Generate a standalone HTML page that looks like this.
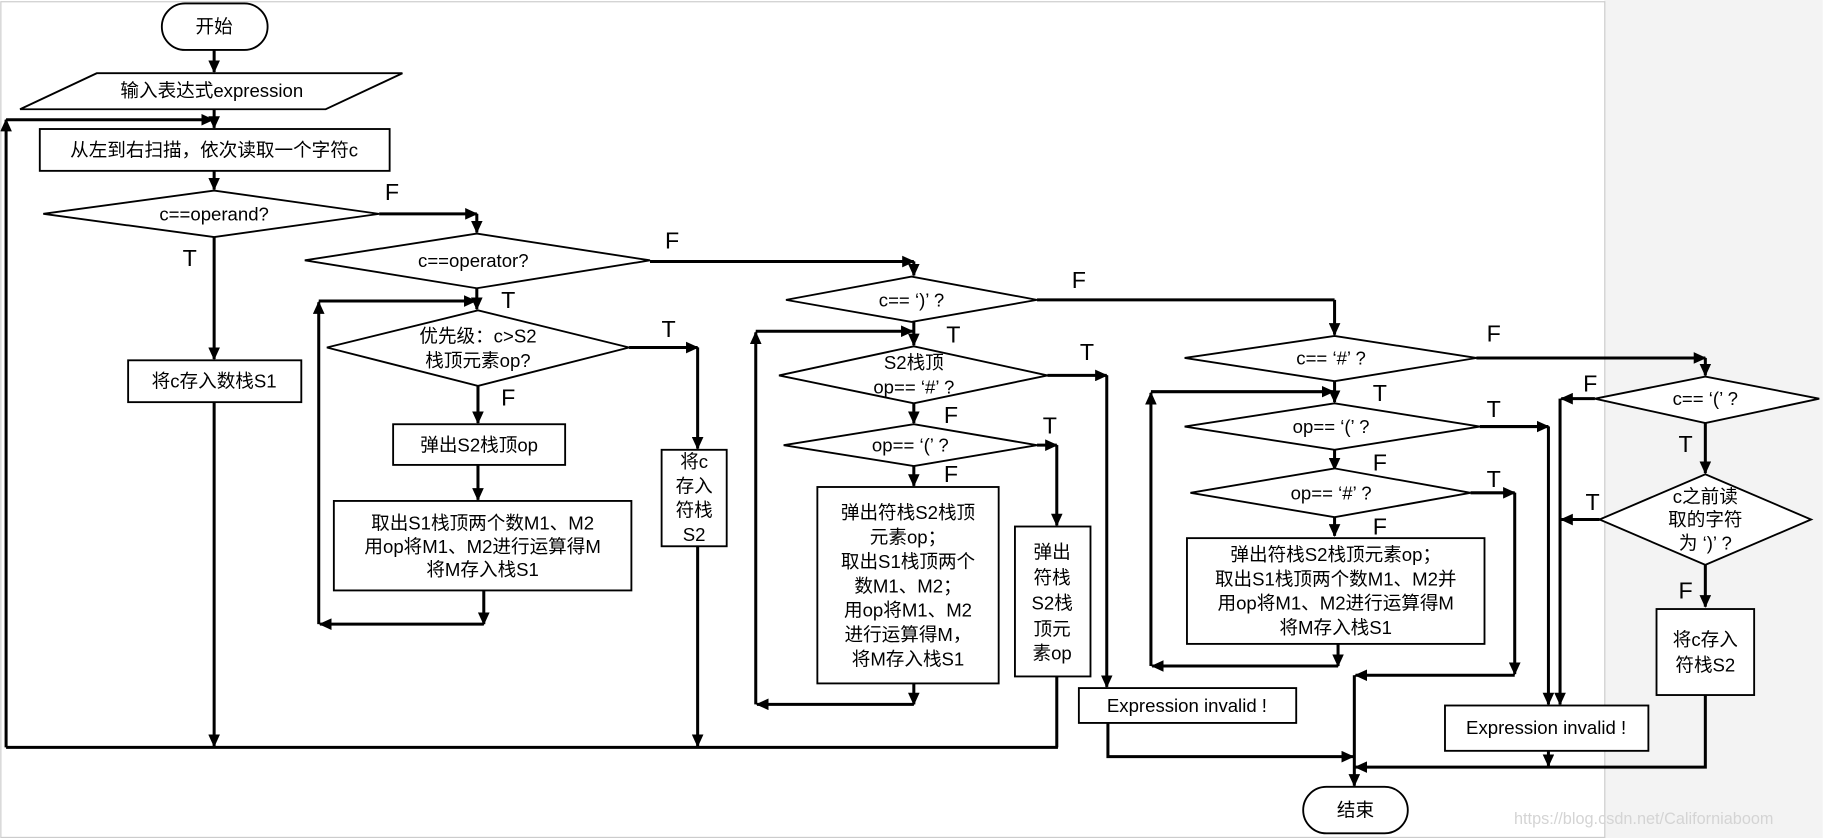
<!DOCTYPE html>
<html><head><meta charset="utf-8"><style>
html,body{margin:0;padding:0;background:#fff;}
svg{display:block;}
text{font-family:"Liberation Sans","Noto Sans CJK SC",sans-serif;fill:#000;}
.t{font-size:16px;text-anchor:middle;dominant-baseline:central;}
.l{font-size:20px;text-anchor:middle;dominant-baseline:central;}
.s{fill:#fff;stroke:#000;stroke-width:1.6;}
.w{fill:none;stroke:#000;stroke-width:2.6;}
</style></head><body>
<svg width="1823" height="838" viewBox="0 0 1568 721" xmlns="http://www.w3.org/2000/svg">
<defs><marker id="a" markerUnits="userSpaceOnUse" markerWidth="12" markerHeight="10" refX="10" refY="5" orient="auto"><path d="M0,0 L11,5 L0,10 z" fill="#000"/></marker></defs>
<rect x="1380" y="0" width="188" height="721" fill="#f3f3f3"/>
<rect x="0.5" y="1.5" width="1380" height="719" fill="none" stroke="#ccc" stroke-width="1"/>

<g class="w">
<path d="M184,43V62" marker-end="url(#a)"/>
<path d="M184,94V110" marker-end="url(#a)"/>
<path d="M5,643V103" marker-end="url(#a)"/>
<path d="M5,103H183" marker-end="url(#a)"/>
<path d="M184,147V163" marker-end="url(#a)"/>
<path d="M326,184H410" marker-end="url(#a)"/>
<path d="M410,184V200" marker-end="url(#a)"/>
<path d="M184,204V309" marker-end="url(#a)"/>
<path d="M184,346V642" marker-end="url(#a)"/>
<path d="M5,643H910"/>
<path d="M559,225H786" marker-end="url(#a)"/>
<path d="M786,225V237" marker-end="url(#a)"/>
<path d="M410,248V266" marker-end="url(#a)"/>
<path d="M274,537V260" marker-end="url(#a)"/>
<path d="M274,259H409" marker-end="url(#a)"/>
<path d="M541,299H600" marker-end="url(#a)"/>
<path d="M600,299V386" marker-end="url(#a)"/>
<path d="M600,470V642" marker-end="url(#a)"/>
<path d="M411,332V364" marker-end="url(#a)"/>
<path d="M411,400V430" marker-end="url(#a)"/>
<path d="M416,508V537" marker-end="url(#a)"/>
<path d="M416,537H275" marker-end="url(#a)"/>
<path d="M892,258H1148" />
<path d="M1148,258V288" marker-end="url(#a)"/>
<path d="M786,277V297" marker-end="url(#a)"/>
<path d="M650,606V286" marker-end="url(#a)"/>
<path d="M650,285H785" marker-end="url(#a)"/>
<path d="M901,323H952" marker-end="url(#a)"/>
<path d="M952,323V591" marker-end="url(#a)"/>
<path d="M786,347V364" marker-end="url(#a)"/>
<path d="M892,383H909" marker-end="url(#a)"/>
<path d="M909,383V452" marker-end="url(#a)"/>
<path d="M786,401V418" marker-end="url(#a)"/>
<path d="M786,588V606" marker-end="url(#a)"/>
<path d="M786,606H651" marker-end="url(#a)"/>
<path d="M909,582V643"/>
<path d="M1270,308H1467" marker-end="url(#a)"/>
<path d="M1467,308V323" marker-end="url(#a)"/>
<path d="M1372,343H1343" marker-end="url(#a)"/>
<path d="M1342,343V606" marker-end="url(#a)"/>
<path d="M1376,447H1343" marker-end="url(#a)"/>
<path d="M1148,328V346" marker-end="url(#a)"/>
<path d="M990,573V338" marker-end="url(#a)"/>
<path d="M990,337H1147" marker-end="url(#a)"/>
<path d="M1273,367H1332" marker-end="url(#a)"/>
<path d="M1332,367V606" marker-end="url(#a)"/>
<path d="M1148,387V404" marker-end="url(#a)"/>
<path d="M1265,424H1303" marker-end="url(#a)"/>
<path d="M1303,424V580" marker-end="url(#a)"/>
<path d="M1303,581H1166" marker-end="url(#a)"/>
<path d="M1148,445V461" marker-end="url(#a)"/>
<path d="M1151,554V573" marker-end="url(#a)"/>
<path d="M1151,573H991" marker-end="url(#a)"/>
<path d="M1165,581V676" marker-end="url(#a)"/>
<path d="M953,622V651H1164" marker-end="url(#a)"/>
<path d="M1467,598V660H1166" marker-end="url(#a)"/>
<path d="M1332,646V659" marker-end="url(#a)"/>
<path d="M1467,364V407" marker-end="url(#a)"/>
<path d="M1467,486V522" marker-end="url(#a)"/>
</g>

<rect class="s" x="139" y="3" width="91" height="40" rx="20"/>
<text class="t" x="184" y="23">开始</text>
<polygon class="s" points="83,63 346,63 280,94 17,94"/>
<text class="t" x="182" y="78">输入表达式expression</text>
<rect class="s" x="34" y="111" width="301" height="36"/>
<text class="t" x="184" y="129">从左到右扫描，依次读取一个字符c</text>
<polygon class="s" points="37,184 184,164 326,184 184,204"/>
<text class="t" x="184" y="184">c==operand?</text>
<rect class="s" x="110" y="310" width="149" height="36"/>
<text class="t" x="184" y="328">将c存入数栈S1</text>

<polygon class="s" points="262,224 410,201 559,224 410,248"/>
<text class="t" x="407" y="224">c==operator?</text>
<polygon class="s" points="281,299 411,267 541,299 411,332"/>
<text class="t" x="411" y="289">优先级：c&gt;S2</text>
<text class="t" x="411" y="310">栈顶元素op?</text>
<rect class="s" x="338" y="365" width="148" height="35"/>
<text class="t" x="412" y="383">弹出S2栈顶op</text>
<rect class="s" x="287" y="431" width="256" height="77"/>
<text class="t" x="415" y="450">取出S1栈顶两个数M1、M2</text>
<text class="t" x="415" y="470">用op将M1、M2进行运算得M</text>
<text class="t" x="415" y="490">将M存入栈S1</text>
<rect class="s" x="569" y="387" width="56" height="83"/>
<text class="t" x="597" y="397">将c</text>
<text class="t" x="597" y="418">存入</text>
<text class="t" x="597" y="439">符栈</text>
<text class="t" x="597" y="460">S2</text>

<polygon class="s" points="676,258 784,238 892,258 784,277"/>
<text class="t" x="784" y="258">c==  ‘)’ ?</text>
<polygon class="s" points="670,323 786,298 901,323 786,347"/>
<text class="t" x="786" y="312">S2栈顶</text>
<text class="t" x="786" y="333">op==  ‘#’ ?</text>
<polygon class="s" points="674,383 786,365 892,383 786,401"/>
<text class="t" x="783" y="383">op==  ‘(’ ?</text>
<rect class="s" x="703" y="419" width="156" height="169"/>
<text class="t" x="781" y="441">弹出符栈S2栈顶</text>
<text class="t" x="781" y="462">元素op；</text>
<text class="t" x="781" y="483">取出S1栈顶两个</text>
<text class="t" x="781" y="504">数M1、M2；</text>
<text class="t" x="781" y="525">用op将M1、M2</text>
<text class="t" x="781" y="546">进行运算得M，</text>
<text class="t" x="781" y="567">将M存入栈S1</text>
<rect class="s" x="873" y="453" width="65" height="129"/>
<text class="t" x="905" y="475">弹出</text>
<text class="t" x="905" y="497">符栈</text>
<text class="t" x="905" y="519">S2栈</text>
<text class="t" x="905" y="541">顶元</text>
<text class="t" x="905" y="562">素op</text>
<rect class="s" x="928" y="592" width="187" height="30"/>
<text class="t" x="1021" y="607">Expression invalid !</text>

<polygon class="s" points="1019,308 1148,289 1270,308 1148,328"/>
<text class="t" x="1145" y="308">c==  ‘#’ ?</text>
<polygon class="s" points="1019,367 1148,347 1273,367 1148,387"/>
<text class="t" x="1145" y="367">op==  ‘(’ ?</text>
<polygon class="s" points="1024,424 1148,403 1265,424 1148,445"/>
<text class="t" x="1145" y="424">op==  ‘#’ ?</text>
<rect class="s" x="1021" y="463" width="256" height="91"/>
<text class="t" x="1149" y="477">弹出符栈S2栈顶元素op；</text>
<text class="t" x="1149" y="498">取出S1栈顶两个数M1、M2并</text>
<text class="t" x="1149" y="519">用op将M1、M2进行运算得M</text>
<text class="t" x="1149" y="540">将M存入栈S1</text>
<polygon class="s" points="1372,343 1467,324 1565,343 1467,364"/>
<text class="t" x="1467" y="343">c==  ‘(’ ?</text>
<polygon class="s" points="1376,447 1467,408 1558,447 1467,486"/>
<text class="t" x="1467" y="427">c之前读</text>
<text class="t" x="1467" y="447">取的字符</text>
<text class="t" x="1467" y="467">为  ‘)’ ?</text>
<rect class="s" x="1425" y="524" width="84" height="74"/>
<text class="t" x="1467" y="550">将c存入</text>
<text class="t" x="1467" y="572">符栈S2</text>
<rect class="s" x="1243" y="607" width="175" height="39"/>
<text class="t" x="1330" y="626">Expression invalid !</text>
<rect class="s" x="1121" y="677" width="90" height="40" rx="20"/>
<text class="t" x="1166" y="697">结束</text>

<text class="l" x="337" y="165">F</text>
<text class="l" x="163" y="222">T</text>
<text class="l" x="578" y="207">F</text>
<text class="l" x="437" y="258">T</text>
<text class="l" x="575" y="283">T</text>
<text class="l" x="437" y="342">F</text>
<text class="l" x="928" y="241">F</text>
<text class="l" x="820" y="288">T</text>
<text class="l" x="935" y="303">T</text>
<text class="l" x="818" y="357">F</text>
<text class="l" x="903" y="366">T</text>
<text class="l" x="818" y="408">F</text>
<text class="l" x="1285" y="287">F</text>
<text class="l" x="1187" y="338">T</text>
<text class="l" x="1285" y="352">T</text>
<text class="l" x="1187" y="398">F</text>
<text class="l" x="1285" y="412">T</text>
<text class="l" x="1187" y="453">F</text>
<text class="l" x="1368" y="330">F</text>
<text class="l" x="1450" y="382">T</text>
<text class="l" x="1370" y="432">T</text>
<text class="l" x="1450" y="508">F</text>
<text x="1414" y="709" style="font-size:14px;fill:#d4d4d4;text-anchor:middle;">https://blog.csdn.net/Californiaboom</text>
</svg>
</body></html>
